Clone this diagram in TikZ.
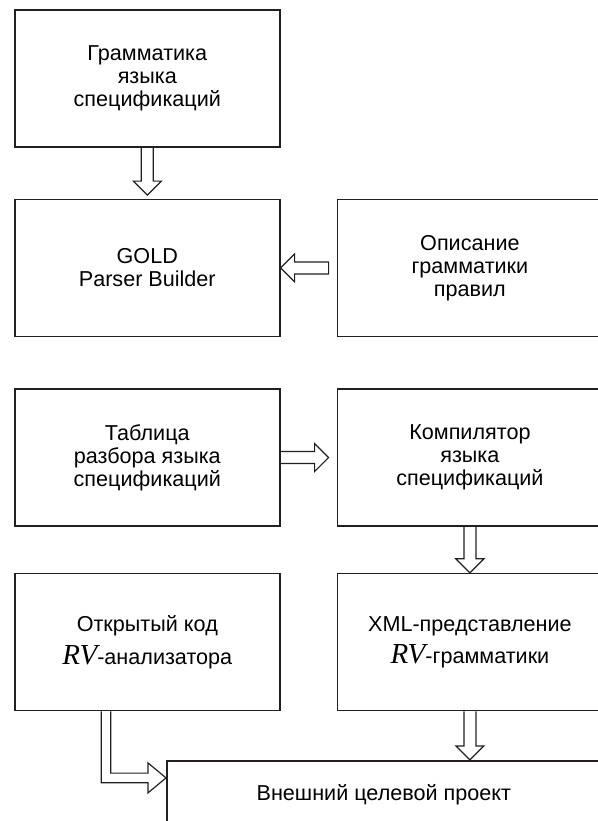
\documentclass[tikz,border=0pt]{standalone}
\usepackage{fontspec}
\setmainfont{Liberation Sans}
\newfontfamily\rvfont{Liberation Serif}
\usetikzlibrary{positioning,calc}
\definecolor{ink}{HTML}{231F20}
\newcommand{\RVtxt}{{\rvfont\itshape\fontsize{14.5}{11.5}\selectfont RV}}
\newcommand{\shafthw}{3pt}
\newcommand{\headhw}{7pt}
\newcommand{\headlen}{7pt}
% hollow block arrows, drawn as outlines
\newcommand{\downflow}[2]{%
  \draw[flow] let \p1=(#1), \p2=(#2) in
    (\x1-\shafthw,\y1) -- (\x1-\shafthw,\y2+\headlen) -- (\x1-\headhw,\y2+\headlen) -- (\x1,\y2)
    -- (\x1+\headhw,\y2+\headlen) -- (\x1+\shafthw,\y2+\headlen) -- (\x1+\shafthw,\y1);}
\newcommand{\rightflow}[2]{%
  \draw[flow] let \p1=(#1), \p2=(#2) in
    (\x1,\y1+\shafthw) -- (\x2-\headlen,\y1+\shafthw) -- (\x2-\headlen,\y1+\headhw) -- (\x2,\y1)
    -- (\x2-\headlen,\y1-\headhw) -- (\x2-\headlen,\y1-\shafthw) -- (\x1,\y1-\shafthw);}
\newcommand{\leftflow}[2]{%
  \draw[flow] let \p1=(#1), \p2=(#2) in
    (\x1,\y1+\shafthw) -- (\x2+\headlen,\y1+\shafthw) -- (\x2+\headlen,\y1+\headhw) -- (\x2,\y1)
    -- (\x2+\headlen,\y1-\headhw) -- (\x2+\headlen,\y1-\shafthw) -- (\x1,\y1-\shafthw) -- cycle;}
\newcommand{\cornerflow}[2]{%
  \draw[flow] let \p1=(#1), \p2=(#2) in
    (\x1-2.4pt,\y1) -- (\x1-2.4pt,\y2-2.4pt) -- (\x2-9pt,\y2-2.4pt) -- (\x2-9pt,\y2-7.5pt) -- (\x2,\y2)
    -- (\x2-9pt,\y2+7.5pt) -- (\x2-9pt,\y2+2.4pt) -- (\x1+2.4pt,\y2+2.4pt) -- (\x1+2.4pt,\y1);}
\tikzset{
  block/.style={rectangle, draw=ink, line width=0.8pt, align=center,
                font=\fontsize{10.8}{11.5}\selectfont, minimum width=132.5pt,
                minimum height=68.5pt, inner sep=0pt},
  flow/.style={draw=ink, line width=0.6pt, line join=miter},
}

\begin{document}
\begin{tikzpicture}[node distance=25.5pt and 28pt]
    \useasboundingbox (0,0) rectangle (299pt,-410.5pt);
    \clip (0,0) rectangle (299pt,-410.5pt);
    \node[block, anchor=north west] (gram) at (7pt,-4.5pt) {Грамматика\\языка\\спецификаций};
    \node[block, below=of gram] (gold) {GOLD\\Parser Builder};
    \node[block, right=of gold] (descr) {Описание\\грамматики\\правил};
    \node[block, below=of gold] (table) {Таблица\\разбора языка\\спецификаций};
    \node[block, right=of table] (comp) {Компилятор\\языка\\спецификаций};
    \node[block, below=23pt of table] (open) {Открытый код\\[3.5pt]\RVtxt-анализатора};
    \node[block, right=of open] (xml) {XML-представление\\[3.5pt]\RVtxt-грамматики};
    \node[block, anchor=north west, minimum width=217pt, minimum height=34pt]
      (proj) at ($(open.south west)+(76pt,-24.25pt)$) {Внешний целевой проект};
    \coordinate (goldtip) at ($(gold.north)+(0,1.75pt)$);
    \coordinate (descrtail) at ($(descr.west)+(-4pt,0)$);
    \coordinate (comptip) at ($(comp.west)+(-4pt,0)$);
    \coordinate (opentail) at ($(open.south west)+(46pt,0)$);
    \coordinate (projtip) at ($(proj.north west)+(0,-9pt)$);
    \downflow{gram.south}{goldtip}
    \leftflow{descrtail}{gold.east}
    \rightflow{table.east}{comptip}
    \downflow{comp.south}{xml.north}
    \downflow{xml.south}{proj.north}
    \cornerflow{opentail}{projtip}
  \end{tikzpicture}
\end{document}
